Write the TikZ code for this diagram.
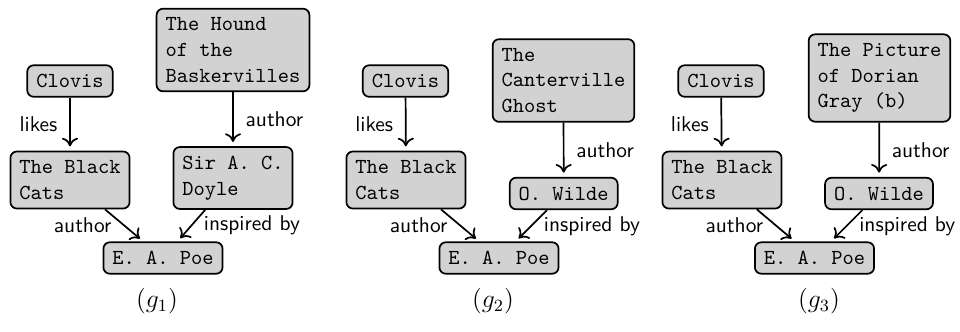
\documentclass[tikz,border=0pt]{standalone}
\usetikzlibrary{arrows.meta}
\begin{document}
\begin{tikzpicture}[x=0.467pt,y=-0.467pt,
  box/.style={draw=black, thick, fill=gray!35, rounded corners=3pt,
    font=\ttfamily, align=left, inner sep=4.2pt},
  rel/.style={thick, -{To[length=4pt,width=7.5pt]}, shorten >=2pt},
  lbl/.style={font=\sffamily, inner sep=5.5pt},
  subcap/.style={inner sep=0pt, font=\large}]
\useasboundingbox (0,0) rectangle (960,331);
% ---------- g1 ----------
\node[box] (c1) at (70,81) {Clovis};
\node[box] (h1) at (233,50) {The Hound\\of the\\Baskervilles};
\node[box] (b1) at (70,180) {The Black\\Cats};
\node[box] (d1) at (233,178) {Sir A. C.\\Doyle};
\node[box] (p1) at (163,258) {E. A. Poe};
\node[subcap] (g1) at (157,301) {$(g_1)$};
\draw[rel] (c1) -- node[lbl, midway, anchor=east] {likes} (b1);
\draw[rel] (h1) -- node[lbl, midway, anchor=west] {author} (d1);
\draw[rel] (b1) -- node[lbl, midway, anchor=east] {author} (p1);
\draw[rel] (d1) -- node[lbl, midway, anchor=west] {inspired by} (p1);
% ---------- g2 ----------
\node[box] (c2) at (405.5,81) {Clovis};
\node[box] (h2) at (563.5,80.5) {The\\Canterville\\Ghost};
\node[box] (b2) at (406,180) {The Black\\Cats};
\node[box] (w2) at (563.7,193.5) {O. Wilde};
\node[box] (p2) at (499,258) {E. A. Poe};
\node[subcap] (g2) at (493,301) {$(g_2)$};
\draw[rel] (c2) -- node[lbl, midway, anchor=east] {likes} (b2);
\draw[rel] (h2) -- node[lbl, midway, anchor=west] {author} (w2);
\draw[rel] (b2) -- node[lbl, midway, anchor=east] {author} (p2);
\draw[rel] (w2) -- node[lbl, midway, anchor=west] {inspired by} (p2);
% ---------- g3 ----------
\node[box] (c3) at (721,81) {Clovis};
\node[box] (h3) at (879.5,78) {The Picture\\of Dorian\\Gray (b)};
\node[box] (b3) at (722,180) {The Black\\Cats};
\node[box] (w3) at (879,193.5) {O. Wilde};
\node[box] (p3) at (814.5,258) {E. A. Poe};
\node[subcap] (g3) at (819,301) {$(g_3)$};
\draw[rel] (c3) -- node[lbl, midway, anchor=east] {likes} (b3);
\draw[rel] (h3) -- node[lbl, midway, anchor=west] {author} (w3);
\draw[rel] (b3) -- node[lbl, midway, anchor=east] {author} (p3);
\draw[rel] (w3) -- node[lbl, midway, anchor=west] {inspired by} (p3);
\end{tikzpicture}
\end{document}
